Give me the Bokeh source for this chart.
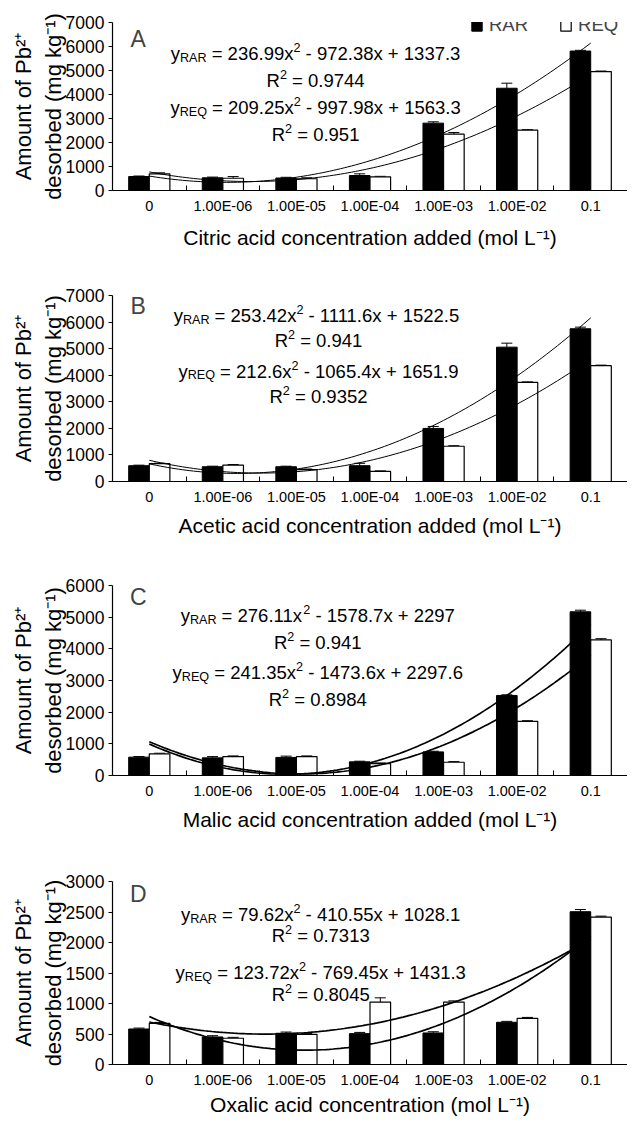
import numpy as np
from bokeh.plotting import figure
from bokeh.models import (ColumnDataSource, FixedTicker, Legend, LegendItem,
                          Whisker, TeeHead, Range1d, Label)
from bokeh.layouts import column
from bokeh.core.properties import value
from bokeh.embed import file_html
from bokeh.resources import INLINE

# ---------------- data ----------------
categories = ["0", "1.00E-06", "1.00E-05", "1.00E-04", "1.00E-03", "1.00E-02", "0.1"]

citric_rar = [583, 529, 520, 625, 2807, 4261, 5811]
citric_rar_err = [20, 30, 30, 70, 55, 210, 30]
citric_req = [696, 510, 490, 570, 2346, 2514, 4957]
citric_req_err = [40, 70, 40, 20, 70, 20, 20]

acetic_rar = [595, 556, 556, 595, 1997, 5056, 5749]
acetic_rar_err = [20, 20, 20, 90, 75, 150, 60]
acetic_req = [670, 620, 450, 380, 1327, 3729, 4359]
acetic_req_err = [20, 20, 20, 20, 20, 20, 20]

malic_rar = [579, 557, 571, 431, 746, 2528, 5170]
malic_rar_err = [20, 40, 40, 20, 20, 20, 50]
malic_req = [683, 598, 598, 377, 419, 1710, 4280]
malic_req_err = [20, 20, 20, 20, 20, 20, 40]

oxalic_rar = [582, 452, 512, 506, 517, 692, 2505]
oxalic_rar_err = [15, 20, 20, 20, 20, 15, 35]
oxalic_req = [675, 430, 495, 1023, 1023, 757, 2417]
oxalic_req_err = [15, 15, 15, 70, 20, 15, 15]

# quadratic trendline coefficients (a, b, c) and R^2
citric_fit_rar = [236.99, -972.38, 1337.3]; citric_r2_rar = 0.9744
citric_fit_req = [209.25, -997.98, 1563.3]; citric_r2_req = 0.951
acetic_fit_rar = [253.42, -1111.6, 1522.5]; acetic_r2_rar = 0.941
acetic_fit_req = [212.6, -1065.4, 1651.9]; acetic_r2_req = 0.9352
malic_fit_rar = [276.11, -1578.7, 2297]; malic_r2_rar = 0.941
malic_fit_req = [241.35, -1473.6, 2297.6]; malic_r2_req = 0.8984
oxalic_fit_rar = [79.62, -410.55, 1028.1]; oxalic_r2_rar = 0.7313
oxalic_fit_req = [123.72, -769.45, 1431.3]; oxalic_r2_req = 0.8045

panel_letters = ["A", "B", "C", "D"]
x_titles = ["Citric acid concentration added (mol L\u207b\u00b9)",
            "Acetic acid concentration added (mol L\u207b\u00b9)",
            "Malic acid concentration added (mol L\u207b\u00b9)",
            "Oxalic acid concentration (mol L\u207b\u00b9)"]
y_title = "Amount of Pb\u00b2\u207a\ndesorbed (mg kg\u207b\u00b9)"

# ---------------- helpers ----------------
FONT = "Liberation Sans"
NB = "\u00a0"
W = {c: 556 for c in "0123456789"}
W.update({".": 278, " ": 278, NB: 278, "=": 584, "-": 333, "+": 584, "x": 500, "y": 500,
          "R": 722, "A": 667, "E": 667, "Q": 778})


def text_width(s, fs):
    return sum(W.get(ch, 556) for ch in s) * fs / 1000.0


def rich_text(p, x, y, segments, fs=18.5, scale=0.68):
    widths, sizes = [], []
    for txt, kind in segments:
        f = fs if kind == "n" else fs * scale
        sizes.append(f)
        widths.append(text_width(txt, f))
    total = sum(widths)
    xs, ys, texts, xo, yo, fsz = [], [], [], [], [], []
    cur = -total / 2.0
    base = 0.36 * fs - 7.5
    for (txt, kind), w, f in zip(segments, widths, sizes):
        xs.append(x); ys.append(y); texts.append(txt.replace(" ", NB))
        xo.append(cur)
        if kind == "sub":
            yo.append(base + 0.22 * fs)
        elif kind == "sup":
            yo.append(base - 0.32 * fs)
        else:
            yo.append(base)
        fsz.append("%.1fpx" % f)
        cur += w
    src = ColumnDataSource(dict(x=xs, y=ys, text=texts, xo=xo, yo=yo, fs=fsz))
    p.text(x="x", y="y", text="text", x_offset="xo", y_offset="yo",
           text_font_size="fs", text_font=value(FONT), text_color="black",
           text_align="left", text_baseline="alphabetic", source=src)


def eq_segments(name, coeffs):
    a, b, c = coeffs
    sign_b = "-" if b < 0 else "+"
    sign_c = "-" if c < 0 else "+"
    return [("y", "n"), (name, "sub"), (" = %sx" % format(a, "g"), "n"), ("2", "sup"),
            (" %s %sx %s %s" % (sign_b, format(abs(b), "g"), sign_c, format(abs(c), "g")), "n")]


def r2_segments(r2):
    return [("R", "n"), ("2", "sup"), (" = %s" % format(r2, "g"), "n")]


panels = [
    dict(rar=citric_rar, rar_err=citric_rar_err, req=citric_req, req_err=citric_req_err,
         fit_rar=citric_fit_rar, fit_req=citric_fit_req, r2_rar=citric_r2_rar, r2_req=citric_r2_req,
         ymax=7000, ystep=1000, top=22, fh=168, bottom=64, lw=1.0,
         eq_x=3.26, eq_y=[5665, 4535, 3410, 2290], letter_y=6330, lab_standoff=9),
    dict(rar=acetic_rar, rar_err=acetic_rar_err, req=acetic_req, req_err=acetic_req_err,
         fit_rar=acetic_fit_rar, fit_req=acetic_fit_req, r2_rar=acetic_r2_rar, r2_req=acetic_r2_req,
         ymax=7000, ystep=1000, top=41, fh=186, bottom=64, lw=1.0,
         eq_x=3.3, eq_y=[6200, 5260, 4125, 3180], letter_y=6620, lab_standoff=6),
    dict(rar=malic_rar, rar_err=malic_rar_err, req=malic_req, req_err=malic_req_err,
         fit_rar=malic_fit_rar, fit_req=malic_fit_req, r2_rar=malic_r2_rar, r2_req=malic_r2_req,
         ymax=6000, ystep=1000, top=40, fh=190, bottom=64, lw=1.7,
         eq_x=3.29, eq_y=[5020, 4170, 3220, 2370], letter_y=5650, lab_standoff=6),
    dict(rar=oxalic_rar, rar_err=oxalic_rar_err, req=oxalic_req, req_err=oxalic_req_err,
         fit_rar=oxalic_fit_rar, fit_req=oxalic_fit_req, r2_rar=oxalic_r2_rar, r2_req=oxalic_r2_req,
         ymax=3000, ystep=500, top=42, fh=183, bottom=0, lw=1.7,
         eq_x=3.33, eq_y=[2440, 2100, 1490, 1130], letter_y=2800, lab_standoff=2),
]

xpos = np.arange(1, len(categories) + 1)
figs = []
for i, cfg in enumerate(panels):
    p = figure(frame_width=515, frame_height=cfg["fh"], min_border_left=112, min_border_right=0,
               min_border_top=cfg["top"], min_border_bottom=cfg["bottom"],
               x_range=Range1d(0.5, 7.5), y_range=Range1d(0, cfg["ymax"]),
               output_backend="svg", toolbar_location=None)
    p.outline_line_color = None
    p.xgrid.visible = False
    p.ygrid.visible = False
    p.background_fill_color = "white"
    p.border_fill_color = "white"

    src = ColumnDataSource(dict(
        x_rar=xpos - 0.14, x_req=xpos + 0.14,
        rar=cfg["rar"], req=cfg["req"],
        rar_up=[v + e for v, e in zip(cfg["rar"], cfg["rar_err"])],
        req_up=[v + e for v, e in zip(cfg["req"], cfg["req_err"])],
    ))
    r1 = p.vbar(x="x_rar", top="rar", width=0.28, bottom=0, source=src,
                fill_color="black", line_color="black", line_width=1)
    r2 = p.vbar(x="x_req", top="req", width=0.28, bottom=0, source=src,
                fill_color="white", line_color="black", line_width=1.2)
    for base, low, up in (("x_rar", "rar", "rar_up"), ("x_req", "req", "req_up")):
        w = Whisker(source=src, base=base, lower=low, upper=up, dimension="height",
                    line_color="black", line_width=1,
                    upper_head=TeeHead(size=11, line_color="black", line_width=1),
                    lower_head=None)
        p.add_layout(w)

    xs = np.linspace(1, 7, 121)
    for coeffs in (cfg["fit_rar"], cfg["fit_req"]):
        a, b, c = coeffs
        p.line(xs, a * xs ** 2 + b * xs + c, line_color="black", line_width=cfg["lw"])

    ey = cfg["eq_y"]
    rich_text(p, cfg["eq_x"], ey[0], eq_segments("RAR", cfg["fit_rar"]))
    rich_text(p, cfg["eq_x"], ey[1], r2_segments(cfg["r2_rar"]))
    rich_text(p, cfg["eq_x"], ey[2], eq_segments("REQ", cfg["fit_req"]))
    rich_text(p, cfg["eq_x"], ey[3], r2_segments(cfg["r2_req"]))

    p.add_layout(Label(x=0.85, y=cfg["letter_y"], text=panel_letters[i], text_font=FONT,
                       text_font_size="23px", text_align="center", text_baseline="middle"))

    xa = p.xaxis[0]
    xa.ticker = FixedTicker(ticks=list(xpos), minor_ticks=list(np.arange(0.5, 8.0, 1.0)))
    xa.major_label_overrides = {int(k): c for k, c in zip(xpos, categories)}
    xa.major_tick_line_color = None
    xa.major_tick_in = 0
    xa.major_tick_out = 0
    xa.minor_tick_in = 5
    xa.minor_tick_out = 0
    xa.minor_tick_line_color = "black"
    xa.axis_line_color = "black"
    xa.axis_line_width = 1.2
    xa.major_label_text_font = FONT
    xa.major_label_text_font_size = "14.5px"
    xa.major_label_text_color = "black"
    xa.major_label_standoff = 7
    xa.axis_label = x_titles[i]
    xa.axis_label_text_font = FONT
    xa.axis_label_text_font_size = "21px"
    xa.axis_label_text_font_style = "normal"
    xa.axis_label_text_color = "black"
    xa.axis_label_standoff = cfg["lab_standoff"]

    ya = p.yaxis[0]
    ya.ticker = FixedTicker(ticks=list(range(0, cfg["ymax"] + 1, cfg["ystep"])))
    ya.minor_tick_line_color = None
    ya.major_tick_in = 0
    ya.major_tick_out = 4
    ya.major_tick_line_color = "black"
    ya.axis_line_color = "black"
    ya.axis_line_width = 1.2
    ya.major_label_text_font = FONT
    ya.major_label_text_font_size = "17.5px"
    ya.major_label_text_color = "black"
    ya.major_label_standoff = 4
    ya.axis_label = y_title
    ya.axis_label_text_font = FONT
    ya.axis_label_text_font_size = "22px"
    ya.axis_label_text_font_style = "normal"
    ya.axis_label_text_color = "black"
    ya.axis_label_standoff = -3

    if i == 0:
        leg = Legend(items=[LegendItem(label="RAR", renderers=[r1]),
                            LegendItem(label="REQ", renderers=[r2])],
                     orientation="horizontal", location=(358, 154),
                     label_text_font=FONT, label_text_font_size="18.5px",
                     glyph_width=13, glyph_height=13, label_standoff=6, spacing=31,
                     padding=0, margin=0, border_line_color=None, background_fill_alpha=0)
        p.add_layout(leg)
    figs.append(p)

layout = column(*figs, spacing=0)
open("out.html", "w").write(file_html(layout, INLINE))
